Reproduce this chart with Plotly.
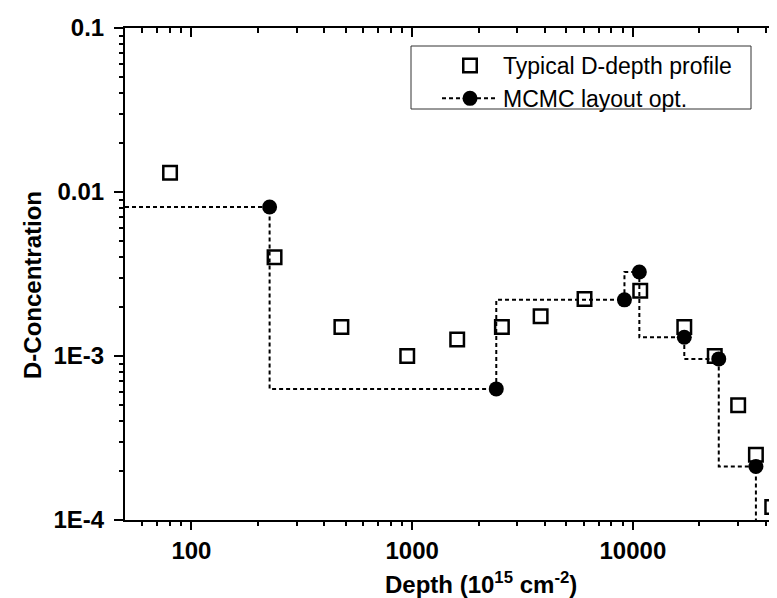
import math
import plotly.graph_objects as go

# ---- data ----
profile_depth = [80, 238, 478, 950, 1600, 2550, 3820, 6040, 10800, 17100, 23500, 30000, 36100, 42800]
profile_conc = [0.0131, 0.0040, 0.0015, 0.0010, 0.00126, 0.0015, 0.00175, 0.00223, 0.0025,
                0.0015, 0.0010, 0.0005, 0.00025, 0.00012]

mcmc_depth = [226, 2405, 9160, 10700, 17100, 24500, 36100]
mcmc_conc = [0.0081, 0.00063, 0.0022, 0.00325, 0.0013, 0.00096, 0.000212]

x_range = [50, 48900]
y_range = [1e-4, 0.1]
x_tickvals = [100, 1000, 10000]
x_ticktext = ["100", "1000", "10000"]
y_tickvals = [1e-4, 1e-3, 1e-2, 1e-1]
y_ticktext = ["1E-4", "1E-3", "0.01", "0.1"]

x_minor = [m * 10 ** e for e in range(1, 5) for m in range(2, 10) if x_range[0] < m * 10 ** e < x_range[1]]
y_minor = [m * 10.0 ** e for e in range(-4, -1) for m in range(2, 10)]

FONT = "Liberation Sans, Arial, Helvetica, sans-serif"

# layout geometry (pixels)
W, H = 777, 598
ML, MR, MT, MB = 117, 0, 20, 86
PW, PH = W - ML - MR, H - MT - MB


def px_x(p):
    return (p - ML) / PW


def px_y(p):
    return (H - MB - p) / PH


fig = go.Figure()

fig.add_trace(go.Scatter(
    x=profile_depth, y=profile_conc, mode="markers", name="Typical D-depth profile",
    marker=dict(symbol="square-open", size=13.5, color="black", line=dict(width=2.5, color="black")),
))

# step line (each MCMC layer ends at its marker)
step_x = [x_range[0]] + mcmc_depth + [mcmc_depth[-1]]
step_y = [mcmc_conc[0]] + mcmc_conc + [y_range[0] / 2]
fig.add_trace(go.Scatter(
    x=step_x, y=step_y, mode="lines", line=dict(shape="vh", color="black", width=2, dash="4px,3px"),
    showlegend=False, hoverinfo="skip",
))
fig.add_trace(go.Scatter(
    x=mcmc_depth, y=mcmc_conc, mode="markers", showlegend=False,
    marker=dict(symbol="circle", size=15, color="black", line=dict(width=0)),
))
# legend entry for MCMC (line + marker)
fig.add_trace(go.Scatter(
    x=[None], y=[None], mode="lines+markers", name="MCMC layout opt.",
    line=dict(color="black", width=2, dash="4px,3px"),
    marker=dict(symbol="circle", size=15, color="black"),
))

axis_common = dict(type="log", showgrid=False, zeroline=False)
tick_font = dict(family=FONT, size=24, color="black", weight="bold")

fig.update_layout(
    width=W, height=H,
    margin=dict(l=ML, r=MR, t=MT, b=MB),
    paper_bgcolor="white", plot_bgcolor="white",
    font=dict(family=FONT, color="black"),
    xaxis=dict(
        **axis_common,
        range=[math.log10(v) for v in x_range],
        showline=True, linecolor="black", linewidth=2,
        ticks="outside", ticklen=8, tickwidth=2, tickcolor="black",
        tickvals=x_tickvals, ticktext=x_ticktext, tickfont=tick_font,
        minor=dict(tickvals=x_minor, ticks="outside", ticklen=4, tickwidth=2, tickcolor="black"),
    ),
    yaxis=dict(
        **axis_common,
        range=[math.log10(v) for v in y_range],
        showline=True, linecolor="black", linewidth=2,
        ticks="outside", ticklen=9, tickwidth=2, tickcolor="black",
        tickvals=y_tickvals, ticktext=y_ticktext, tickfont=tick_font,
        ticklabelstandoff=5,
        minor=dict(tickvals=y_minor, ticks="outside", ticklen=4.5, tickwidth=2, tickcolor="black"),
    ),
    xaxis2=dict(
        **axis_common, overlaying="x", side="top", anchor="y",
        range=[math.log10(v) for v in x_range],
        showline=True, linecolor="black", linewidth=2,
        ticks="inside", ticklen=9, tickwidth=2, tickcolor="black",
        tickvals=x_tickvals, showticklabels=False,
        minor=dict(tickvals=x_minor, ticks="inside", ticklen=5, tickwidth=2, tickcolor="black"),
    ),
    yaxis2=dict(
        **axis_common, overlaying="y", side="right", anchor="x",
        range=[math.log10(v) for v in y_range],
        showline=False,
        ticks="inside", ticklen=8, tickwidth=2, tickcolor="black",
        tickvals=y_tickvals, showticklabels=False,
        minor=dict(tickvals=y_minor, ticks="inside", ticklen=4, tickwidth=2, tickcolor="black"),
    ),
    legend=dict(
        x=px_x(429), y=px_y(36), xanchor="left", yanchor="top",
        bgcolor="rgba(0,0,0,0)", borderwidth=0,
        font=dict(family=FONT, size=23, color="black"),
        itemwidth=56,
    ),
    shapes=[
        dict(type="rect", xref="paper", yref="paper",
             x0=px_x(403), x1=px_x(743), y0=px_y(101), y1=px_y(38),
             line=dict(color="#333", width=1), fillcolor="white", layer="above"),
    ],
    annotations=[
        dict(text="Depth (10<sup>15</sup> cm<sup>-2</sup>)", xref="paper", yref="paper",
             x=px_x(473), y=px_y(592), xanchor="center", yanchor="bottom",
             showarrow=False, font=dict(family=FONT, size=24, color="black", weight="bold")),
        dict(text="D-Concentration", xref="paper", yref="paper", textangle=-90,
             x=px_x(24), y=px_y(277), xanchor="center", yanchor="middle",
             showarrow=False, font=dict(family=FONT, size=24, color="black", weight="bold")),
    ],
)

# dummy trace to activate the mirrored axes
fig.add_trace(go.Scatter(x=[None], y=[None], xaxis="x2", yaxis="y2", showlegend=False, hoverinfo="skip"))

fig.write_html("out.html")
